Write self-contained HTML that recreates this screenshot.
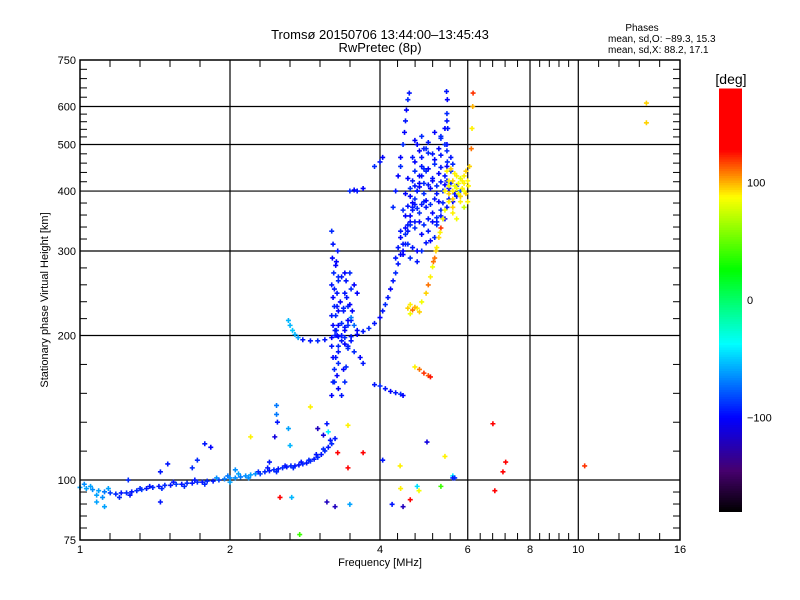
<!DOCTYPE html>
<html><head><meta charset="utf-8"><style>
body{margin:0;background:#fff;}
svg{display:block;font-family:"Liberation Sans",sans-serif;}
</style></head><body>
<svg id="chart" width="800" height="600" xmlns="http://www.w3.org/2000/svg">
<rect width="800" height="600" fill="#fff"/>
<text x="380" y="39" font-size="13" text-anchor="middle">Tromsø 20150706 13:44:00–13:45:43</text>
<text x="380" y="52" font-size="13" text-anchor="middle">RwPretec (8p)</text>
<text x="642" y="31" font-size="10" text-anchor="middle">Phases</text>
<text x="608" y="42" font-size="10">mean, sd,O: −89.3, 15.3</text>
<text x="608" y="53" font-size="10">mean, sd,X:  88.2, 17.1</text>
<text x="380" y="566" font-size="11" text-anchor="middle">Frequency [MHz]</text>
<text transform="translate(48,300) rotate(-90)" font-size="11" text-anchor="middle">Stationary phase Virtual Height [km]</text>
<g id="grid"></g><g id="marks"></g><g id="axes"></g><g id="cbar"></g>
</svg>
<script>
// ---- data ----
const xTicks=[1,2,4,6,8,10,16];
const yTicks=[75,100,200,300,400,500,600,750];
const cbTicks=[100,0,-100];
const eFreq=[1.00,1.03,1.06,1.09,1.12,1.15,1.18,1.21,1.24,1.27,1.30,1.33,1.36,1.40,1.44,1.48,1.52,1.56,1.60,1.64,1.68,1.72,1.76,1.80,1.85,1.90,1.95,2.00,2.05,2.10,2.15,2.20,2.25,2.30,2.35,2.40,2.45,2.50,2.55,2.60,2.65,2.70,2.75,2.80,2.85,2.90,2.95,3.00,3.05,3.10,3.15,3.20,3.25];
const eHeight=[96.5,96,95.5,95,94.5,94,93.5,94,94,94.5,95,95.5,96,96.5,97,97.5,97.5,98,98,98.5,98.5,99,99,99.5,99.5,100,100.5,101,101,101.5,102,102.5,103,103,104,104.5,105,105.5,106,106.5,107,107,107.5,108,108.5,109.5,110.5,111.5,113,115,117,119,122];
const ePhase=[-60,-60,-65,-60,-70,-85,-90,-95,-90,-95,-90,-85,-95,-90,-95,-90,-95,-85,-95,-90,-95,-90,-95,-90,-95,-85,-70,-65,-65,-70,-65,-60,-65,-85,-90,-95,-90,-95,-90,-95,-90,-95,-95,-90,-95,-90,-95,-90,-95,-90,-95,-90,-95];
const e2Freq=[1.02,1.05,1.08,1.11,1.14,1.2,1.26,1.32,1.38,1.46,1.54,1.62,1.7,1.78,1.88,1.98,2.08,2.18,2.28,2.38,2.48,2.58,2.68,2.78,2.88,2.98,3.08,3.18,1.08,1.12,1.45,1.5,1.68,1.72,1.25,2.0,2.05];
const e2Height=[98,97,93,92,96,92,93,96,97,96,99,97,100,98,101,102,103,101,104,106,104,107,106,109,110,113,116,121,90,88,104,108,106,110,100,99,105];
const e2Phase=[-65,-60,-60,-65,-60,-90,-95,-90,-95,-90,-95,-90,-95,-90,-65,-70,-60,-65,-90,-95,-90,-95,-90,-95,-90,-95,-90,-95,-60,-60,-95,-95,-90,-90,-90,-60,-65];
const oFreq=[2.62,2.64,2.67,2.70,2.74,2.8,2.9,3.0,3.1,3.2,3.3,3.4,3.5,3.6,3.7,3.8,3.9,4.0,4.05,4.1,4.15,4.2,4.25,4.3,4.35,4.4,4.45,4.5,4.55,4.6,4.65,4.7,4.75,4.8,4.85,4.9,
3.2,3.22,3.24,3.22,3.2,3.25,3.22,3.2,3.24,3.22,3.2,3.23,3.21,3.22,3.2,3.28,3.3,3.27,3.3,3.28,3.3,3.27,3.29,3.3,
3.35,3.4,3.45,3.5,3.55,3.6,3.38,3.45,3.52,3.4,3.5,3.6,3.42,3.48,3.55,3.45,3.55,3.65,3.7,3.3,3.35,3.4,
4.3,4.45,4.6,4.75,4.4,4.55,4.7,4.85,5.0,5.2,4.5,4.65,4.8,4.95,5.1,5.3,5.45,4.6,4.75,4.9,5.05,5.2,5.35,5.5,5.65,5.8,4.65,4.8,4.95,5.1,5.25,5.4,5.55,4.7,4.85,5.0,5.15,5.3,5.45,4.75,4.9,5.3,5.4,5.45,4.25,4.3,4.35,4.4,4.5,4.6,4.7,4.9,5.0,5.2,5.35,5.6,5.7,
4.45,4.48,4.5,4.52,4.55,4.58,4.4,5.45,5.46,5.45,5.47,5.45,5.46,5.44,3.48,3.55,3.6,3.7,3.9,4.0,4.05,
3.9,4.0,4.1,4.2,4.3,4.4,4.45];
const oHeight=[215,210,205,201,198,196,195,195,196,198,199,198,199,201,204,207,212,218,225,232,240,250,260,270,282,295,310,325,340,355,370,385,400,415,430,445,
150,160,170,180,190,200,210,220,230,240,255,270,290,310,330,165,185,205,225,245,265,285,300,175,
200,205,210,215,210,205,225,230,225,245,250,245,260,270,255,190,185,180,175,155,150,160,
290,295,290,285,320,330,335,325,330,340,355,365,360,370,360,365,370,390,400,395,405,395,400,405,395,400,420,430,440,425,435,430,440,460,470,480,465,475,485,500,490,520,540,560,370,400,430,450,310,345,375,380,350,345,350,380,390,
500,530,560,590,620,640,470,420,460,500,540,580,620,645,400,402,400,405,450,460,470,
158,157,155,153,152,151,150];
const oPhase=[-55,-55,-50,-55,-60,-95,-95,-90,-95,-100,-95,-90,-95,-100,-95,-90,-95,-100,-95,-90,-95,-100,-95,-90,-95,-100,-95,-90,-95,-100,-95,-90,-95,-100,-95,-90,
-100,-95,-90,-100,-95,-90,-100,-95,-90,-100,-95,-90,-100,-95,-90,-100,-95,-90,-100,-95,-90,-100,-95,-90,
-95,-100,-90,-95,-75,-100,-95,-90,-100,-95,-90,-100,-95,-90,-100,-95,-90,-100,-95,-100,-95,-90,
-95,-100,-90,-95,-100,-95,-90,-100,-95,-90,-100,-95,-90,-95,-100,-90,-95,-100,-95,-90,-100,-95,-90,-100,-95,-80,-95,-100,-90,-95,-100,-95,-90,-100,-95,-90,-100,-95,-90,-100,-95,-90,-100,-95,-90,-95,-100,-90,-95,-100,-95,-90,-100,-95,-80,-100,-95,-90,-100,
-95,-100,-90,-95,-100,-95,-90,-100,-95,-90,-100,-95,-90,-100,-95,-100,-90,-95,-100,-95,-90,
-95,-100,-95,-90,-100,-95,-90];
const cFreq=[4.35,4.45,4.55,4.65,4.75,4.85,4.95,5.05,5.15,4.4,4.5,4.6,4.7,4.8,4.9,5.0,5.1,5.2,5.3,5.4,4.45,4.55,4.65,4.75,4.85,4.95,5.05,5.15,5.25,5.35,5.5,4.5,4.6,4.7,4.8,4.9,5.0,5.1,5.2,5.3,5.4,5.55,5.7,4.55,4.7,4.85,5.0,5.15,5.3,5.45,5.6,4.65,4.8,4.95,5.1,5.25,5.4,5.55,4.7,4.85,5.0,5.15,5.3,3.25,3.3,3.35,3.4,3.45,3.5,3.28,3.33,3.38,3.43,3.48,3.3,3.35,3.4,3.24,3.26,3.28,3.26,3.24,3.26,3.3,3.35,3.4,3.45,3.5,3.38,3.42];
const cHeight=[305,300,310,305,300,300,312,315,320,330,335,340,345,345,340,350,345,352,355,350,365,372,378,368,375,382,375,385,380,378,385,395,405,410,408,415,412,420,410,418,412,415,410,425,440,450,445,455,448,450,455,470,485,490,478,490,500,470,510,520,505,530,515,205,210,212,208,215,218,230,235,228,240,232,260,265,270,160,180,200,220,250,280,190,195,192,188,195,170,172];
const cPhase=[-95,-100,-90,-95,-100,-90,-95,-100,-90,-95,-100,-90,-95,-100,-90,-95,-100,-90,-95,-100,-90,-95,-100,-90,-95,-100,-90,-95,-100,-90,-95,-100,-90,-95,-100,-90,-95,-100,-90,-95,-100,-90,-95,-100,-90,-95,-100,-90,-95,-100,-90,-95,-100,-90,-95,-100,-90,-95,-100,-90,-95,-100,-90,-95,-100,-90,-95,-100,-70,-95,-100,-90,-95,-100,-90,-95,-100,-90,-95,-100,-90,-95,-100,-90,-95,-100,-90,-95,-100,-90];
const xFreq=[4.55,4.65,4.75,4.85,4.95,5.0,5.05,5.1,5.15,5.2,5.25,5.3,5.35,5.4,5.5,5.6,5.8,5.9,6.0,6.05,6.1,6.12,6.14,6.15,
5.4,5.5,5.6,5.7,5.8,5.9,5.5,5.6,5.7,5.8,5.9,5.6,5.7,5.45,5.55,5.65,5.75,5.85,5.95,6.0,5.5,5.65,5.8,5.9,5.6,
4.7,4.8,4.9,5.0,5.05,4.6,4.7,4.6,4.8,5.12,5.18,5.28,5.75,5.85,5.95,6.02];
const xHeight=[228,226,228,235,245,255,265,278,290,305,320,335,350,365,380,385,390,400,420,450,490,540,600,640,
400,410,420,430,425,415,395,400,405,380,370,360,350,440,445,435,415,405,395,380,420,410,390,430,370,
172,170,167,165,164,232,229,222,224,285,300,328,395,420,440,410];
const xPhase=[95,110,90,85,95,110,90,85,110,90,95,120,90,85,90,95,90,85,90,95,110,90,100,120,
90,85,95,90,80,90,95,90,85,90,75,90,85,90,95,90,85,90,95,90,90,85,95,90,95,
90,110,120,115,125,90,100,85,95,110,95,90,85,90,95,90];
const sFreq=[2.48,2.9,3.0,3.13,3.45,3.7,2.2,1.78,1.83,1.45,2.52,2.66,2.76,3.13,3.25,3.48,3.29,3.45,4.39,4.6,4.45,4.97,5.4,5.6,5.6,5.65,5.3,4.79,6.74,7.06,7.15,6.8,4.23,4.4,4.75,4.05,2.46,2.49,2.48,2.4,2.62,2.64,13.7,13.7,10.3,3.15,3.08];
const sHeight=[143,142,128,131,130,114,123,119,117,90,92,92,77,90,88,89,114,106,107,91,88,120,112,102,101,101,97,95,131,104,109,95,89,96,97,110,123,132,137,109,128,118,610,555,107,126,124];
const sPhase=[-70,90,-120,-95,90,130,90,-95,-100,-95,140,-55,40,-120,-120,-60,130,130,90,160,-120,-110,90,-40,-95,-90,40,85,170,170,140,135,-95,90,-45,-95,-110,-95,-70,-95,-60,-55,95,95,120,-40,-110];

// ---- scales ----
const X0=80,X1=680,Y0=60,Y1=540;
const xs=f=>X0+150*Math.log2(f);
const ys=h=>Y1-480*Math.log10(h/75);
const cY=v=>300-v*(423/360);
const stops=[[-180,[0,0,0]],[-145,[70,0,110]],[-100,[0,0,255]],[-37,[0,255,255]],[26,[0,255,0]],[88,[255,255,0]],[128,[255,0,0]],[180,[255,0,0]]];
function col(v){v=Math.max(-180,Math.min(180,v));for(let i=0;i<stops.length-1;i++){const[a,ca]=stops[i],[b,cb]=stops[i+1];if(v<=b){const t=(v-a)/(b-a);return 'rgb('+ca.map((c,k)=>Math.round(c+(cb[k]-c)*t)).join(',')+')';}}return 'red';}
const NS='http://www.w3.org/2000/svg';
function el(t,a,p){const e=document.createElementNS(NS,t);for(const k in a)e.setAttribute(k,a[k]);p.appendChild(e);return e;}
const grid=document.getElementById('grid'),axes=document.getElementById('axes'),marks=document.getElementById('marks'),cbar=document.getElementById('cbar');

xTicks.slice(1,-1).forEach(f=>{const l=el('line',{x1:xs(f),x2:xs(f),y1:Y0,y2:Y1,stroke:'#000','stroke-width':1.2},grid);

});
yTicks.slice(1,-1).forEach(h=>{const l=el('line',{x1:X0,x2:X1,y1:ys(h),y2:ys(h),stroke:'#000','stroke-width':1.2},grid);

});

function plot(F,H,P,name){for(let i=0;i<F.length;i++){const x=xs(F[i]),y=ys(H[i]);
const p=el('path',{d:`M${x-2.5},${y}h5M${x},${y-2.5}v5`,stroke:col(P[i]),'stroke-width':1.6,fill:'none'},marks);

}}
plot(eFreq,eHeight,ePhase,'e-layer-point');
plot(e2Freq,e2Height,e2Phase,'e-layer-point');
plot(oFreq,oHeight,oPhase,'o-trace-point');
plot(cFreq,cHeight,cPhase,'f2-cluster-point');
plot(xFreq,xHeight,xPhase,'x-trace-point');
plot(sFreq,sHeight,sPhase,'scatter-point');

const fr=el('rect',{x:X0,y:Y0,width:X1-X0,height:Y1-Y0,fill:'none',stroke:'#000','stroke-width':1.5},axes);


for(let i=0;i<xTicks.length-1;i++){const a=xs(xTicks[i]),b=xs(xTicks[i+1]);for(let k=1;k<5;k++){const x=a+(b-a)*k/5;
el('line',{x1:x,x2:x,y1:Y1,y2:Y1-7,stroke:'#000'},axes);el('line',{x1:x,x2:x,y1:Y0,y2:Y0+7,stroke:'#000'},axes);}}
xTicks.forEach(f=>{const t=el('text',{x:xs(f),y:553,'font-size':11,'text-anchor':'middle'},axes);t.textContent=f;

});
for(let i=0;i<yTicks.length-1;i++){const a=ys(yTicks[i]),b=ys(yTicks[i+1]);for(let k=1;k<5;k++){const y=a+(b-a)*k/5;
el('line',{x1:X0,x2:X0+7,y1:y,y2:y,stroke:'#000'},axes);el('line',{x1:X1,x2:X1-7,y1:y,y2:y,stroke:'#000'},axes);}}
yTicks.forEach(h=>{const t=el('text',{x:76,y:ys(h)+4,'font-size':11,'text-anchor':'end'},axes);t.textContent=h;

});

for(let v=-180;v<180;v+=2){const r=el('rect',{x:719,y:cY(v+2),width:23,height:423/180+0.5,fill:col(v+1)},cbar);

}
const ct=el('text',{x:731,y:84,'font-size':14,'text-anchor':'middle'},cbar);ct.textContent='[deg]';


cbTicks.forEach(v=>{const t=el('text',{x:747,y:cY(v)+4,'font-size':11},cbar);t.textContent=v<0?'−'+(-v):v;

});
</script>
</body></html>
